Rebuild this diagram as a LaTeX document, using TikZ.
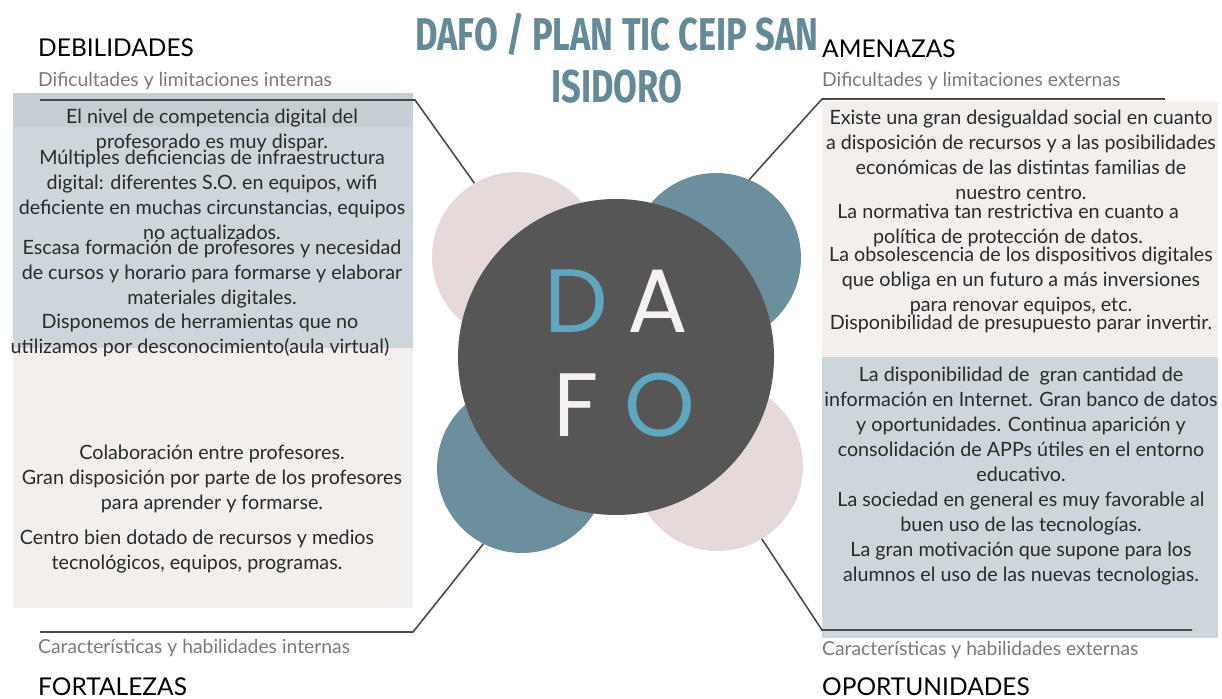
\documentclass[tikz,border=0pt]{standalone}
\usepackage{fontspec}
\setmainfont{Lato}
\newfontfamily\titulofont{Fira Sans}
\newfontfamily\letrasfont{Poppins}
\usepackage{tikz}
\usetikzlibrary{positioning}

\definecolor{fondoazul}{HTML}{CDD6DB}
\definecolor{bandaazul}{HTML}{C4CED3}
\definecolor{fondocrema}{HTML}{F3EFEC}
\definecolor{rosa}{HTML}{E6D9D9}
\definecolor{petroleo}{HTML}{6B8F9D}
\definecolor{grisoscuro}{HTML}{565656}
\definecolor{celeste}{HTML}{5FA6C0}
\definecolor{colortitulo}{HTML}{648997}
\definecolor{linea}{HTML}{4A4A4A}
\definecolor{subgris}{HTML}{7A7A7A}
\definecolor{blanco}{HTML}{F4F1EF}
\definecolor{texto}{HTML}{2A2A2A}

\newcommand{\cuerpo}{\fontsize{19.7}{25}\selectfont}

\begin{document}
\begin{tikzpicture}[x=1pt, y=-1pt,
  parrafo/.style={align=center, inner sep=0pt, anchor=north, font=\cuerpo, text=texto},
  cabecera/.style={anchor=base west, inner sep=0pt, font=\fontsize{24.5}{28}\selectfont, text=black},
  subtitulo/.style={anchor=base west, inner sep=0pt, font=\fontsize{19.3}{22}\selectfont, text=subgris},
  burbuja/.style={circle, inner sep=0pt, minimum size=170pt},
  letra/.style={anchor=base, inner sep=0pt, font=\letrasfont\fontsize{90}{90}\selectfont},
  conector/.style={draw=linea, line width=1.6pt}]
\useasboundingbox (0,0) rectangle (1222,698);
\fill[white] (0,0) rectangle (1222,698);

% cajas de fondo
\fill[fondoazul] (13,93) rectangle (413,348);
\fill[bandaazul] (13,93) rectangle (413,127);
\fill[fondocrema] (13,348) rectangle (413,608);
\fill[fondocrema] (822,101) rectangle (1218,357);
\fill[fondoazul] (822,357) rectangle (1218,638);

% circulos
\node[burbuja, fill=rosa] (circD) at (517,257) {};
\node[burbuja, fill=petroleo] (circA) at (716,258) {};
\node[burbuja, fill=petroleo] (circF) at (522,468) {};
\node[burbuja, fill=rosa] (circO) at (718,466) {};
\node[circle, inner sep=0pt, minimum size=316pt, fill=grisoscuro] (centro) at (616,357) {};

\node[letra, text=celeste] (letraD) at (576,332) {D};
\node[letra, text=blanco] (letraA) at (658,332) {A};
\node[letra, text=blanco] (letraF) at (576,436) {F};
\node[letra, text=celeste] (letraO) at (660,436) {O};

% conectores
\coordinate (d1) at (40,100);
\coordinate (d2) at (415,100);
\coordinate (a1) at (1165,99);
\coordinate (a2) at (822,99);
\coordinate (f1) at (40,632);
\coordinate (f2) at (413,632);
\coordinate (o1) at (1192,630);
\coordinate (o2) at (822,630);
\draw[conector] (d1) -- (d2) -- (circD.120);
\draw[conector] (a1) -- (a2) -- (circA.67);
\draw[conector] (f1) -- (f2) -- (circF.243);
\draw[conector] (o1) -- (o2) -- (circO.301);

% titulo
\node[anchor=north, inner sep=0pt, align=center, text=colortitulo,
  font=\titulofont\bfseries\fontsize{46}{52}\selectfont] (titulo) at (617,13)
  {\scalebox{0.75}[1]{DAFO / PLAN TIC CEIP SAN}\\\scalebox{0.75}[1]{ISIDORO}};

% cabeceras
\node[cabecera] (deb) at (38,57) {DEBILIDADES};
\node[subtitulo] (debsub) at (38,87) {Dificultades y limitaciones internas};
\node[cabecera] (ame) at (822,58) {AMENAZAS};
\node[subtitulo] (amesub) at (822,87) {Dificultades y limitaciones externas};
\node[subtitulo] (forsub) at (38,653) {Características y habilidades internas};
\node[cabecera] (for) at (38,695) {FORTALEZAS};
\node[subtitulo] (oposub) at (822,655) {Características y habilidades externas};
\node[cabecera] (opo) at (822,695) {OPORTUNIDADES};

% debilidades
\node[parrafo] (deb1) at (212,109) {El nivel de competencia digital del\\profesorado es muy dispar.};
\node[parrafo] (deb2) at (212,150) {Múltiples deficiencias de infraestructura\\digital: diferentes S.O. en equipos, wifi\\deficiente en muchas circunstancias, equipos\\no actualizados.};
\node[parrafo] (deb3) at (212,240) {Escasa formación de profesores y necesidad\\de cursos y horario para formarse y elaborar\\materiales digitales.};
\node[parrafo] (deb4) at (200,314) {Disponemos de herramientas que no\\utilizamos por desconocimiento(aula virtual)};

% fortalezas
\node[parrafo] (for1) at (212,445) {Colaboración entre profesores.\\Gran disposición por parte de los profesores\\para aprender y formarse.};
\node[parrafo] (for2) at (197,530) {Centro bien dotado de recursos y medios\\tecnológicos, equipos, programas.};

% amenazas
\node[parrafo] (ame1) at (1021,110) {Existe una gran desigualdad social en cuanto\\a disposición de recursos y a las posibilidades\\económicas de las distintas familias de\\nuestro centro.};
\node[parrafo] (ame2) at (1008,204) {La normativa tan restrictiva en cuanto a\\política de protección de datos.};
\node[parrafo] (ame3) at (1021,247) {La obsolescencia de los dispositivos digitales\\que obliga en un futuro a más inversiones\\para renovar equipos, etc.};
\node[parrafo] (ame4) at (1021,315) {Disponibilidad de presupuesto parar invertir.};

% oportunidades
\node[parrafo] (opo1) at (1021,367) {La disponibilidad de\ \ gran cantidad de\\información en Internet. Gran banco de datos\\y oportunidades. Continua aparición y\\consolidación de APPs útiles en el entorno\\educativo.};
\node[parrafo] (opo2) at (1021,492) {La sociedad en general es muy favorable al\\buen uso de las tecnologías.};
\node[parrafo] (opo3) at (1021,542) {La gran motivación que supone para los\\alumnos el uso de las nuevas tecnologias.};
\end{tikzpicture}
\end{document}
